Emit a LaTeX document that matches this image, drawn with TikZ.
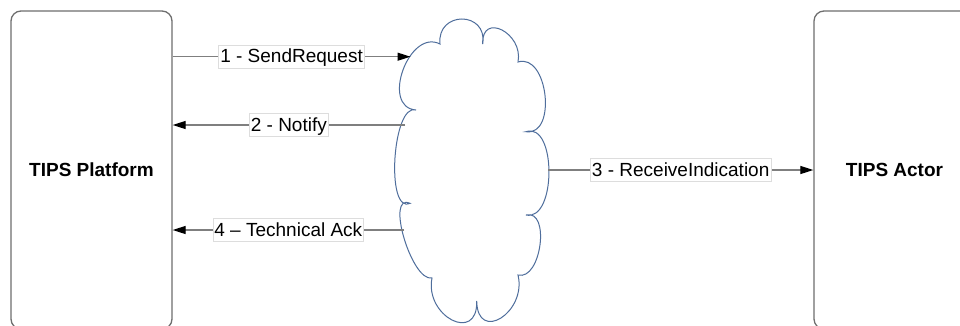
\documentclass[tikz,border=0pt]{standalone}
\usepackage{fontspec}
\setmainfont{Liberation Sans}
\usetikzlibrary{arrows.meta,calc}
\definecolor{boxgray}{HTML}{6E6E6E}
\definecolor{linegray}{HTML}{7F7F7F}
\definecolor{cloudblue}{HTML}{4F6E9C}
\definecolor{lblgray}{HTML}{DDDDDD}
\begin{document}
\begin{tikzpicture}[x=1pt,y=-1pt,
  font=\fontsize{19}{22}\selectfont,
  actorbox/.style={draw=boxgray,line width=1.3pt,rounded corners=10pt,fill=white,
    minimum width=161pt,minimum height=318pt,inner sep=0pt,font=\fontsize{19}{22}\selectfont\bfseries},
  conn/.style={draw=linegray,line width=1.2pt},
  tip/.style={-{Triangle[length=13pt,width=8pt,color=black,fill=black]}},
  lbl/.style={draw=lblgray,line width=0.6pt,fill=white,inner xsep=1.5pt,inner ysep=1pt,
    text height=16.5pt,text depth=4.5pt},
  cloudline/.style={draw=cloudblue,line width=1pt,fill=white}]
\fill[white] (0,0) rectangle (960,325);
\useasboundingbox (0,0) rectangle (960,325);
\clip (0,0) rectangle (960,325);

\node[actorbox] (plat) at (91.5,170) {TIPS Platform};
\node[actorbox] (actor) at (894.5,170) {TIPS Actor};

% cloud cusps
\coordinate (k1) at (416,110);
\coordinate (k2) at (440,44);
\coordinate (k3) at (482.7,44);
\coordinate (k4) at (518,62);
\coordinate (k5) at (526,131.7);
\coordinate (k6) at (526,215);
\coordinate (k7) at (518,275);
\coordinate (k8) at (476.7,301);
\coordinate (k9) at (432,278);
\coordinate (k10) at (410,203.3);
% bump apexes
\coordinate (e1) at (403,70);
\coordinate (e2) at (462,19);
\coordinate (e3) at (502,30);
\coordinate (e4) at (545,95);
\coordinate (e5) at (549,172);
\coordinate (e6) at (540,245);
\coordinate (e7) at (501,318);
\coordinate (e8) at (452,320);
\coordinate (e9) at (404,238);
\coordinate (e10) at (395,158);

\path[cloudline] (k1)
  .. controls ($0.4333*(k1)+1.3333*(e1)-0.7667*(k2)$) and ($1.3333*(e1)+0.4333*(k2)-0.7667*(k1)$) .. (k2)
  .. controls ($0.4333*(k2)+1.3333*(e2)-0.7667*(k3)$) and ($1.3333*(e2)+0.4333*(k3)-0.7667*(k2)$) .. (k3)
  .. controls ($0.4333*(k3)+1.3333*(e3)-0.7667*(k4)$) and ($1.3333*(e3)+0.4333*(k4)-0.7667*(k3)$) .. (k4)
  .. controls ($0.4333*(k4)+1.3333*(e4)-0.7667*(k5)$) and ($1.3333*(e4)+0.4333*(k5)-0.7667*(k4)$) .. (k5)
  .. controls ($0.4333*(k5)+1.3333*(e5)-0.7667*(k6)$) and ($1.3333*(e5)+0.4333*(k6)-0.7667*(k5)$) .. (k6)
  .. controls ($0.4333*(k6)+1.3333*(e6)-0.7667*(k7)$) and ($1.3333*(e6)+0.4333*(k7)-0.7667*(k6)$) .. (k7)
  .. controls ($0.4333*(k7)+1.3333*(e7)-0.7667*(k8)$) and ($1.3333*(e7)+0.4333*(k8)-0.7667*(k7)$) .. (k8)
  .. controls ($0.4333*(k8)+1.3333*(e8)-0.7667*(k9)$) and ($1.3333*(e8)+0.4333*(k9)-0.7667*(k8)$) .. (k9)
  .. controls ($0.4333*(k9)+1.3333*(e9)-0.7667*(k10)$) and ($1.3333*(e9)+0.4333*(k10)-0.7667*(k9)$) .. (k10)
  .. controls ($0.4333*(k10)+1.3333*(e10)-0.7667*(k1)$) and ($1.3333*(e10)+0.4333*(k1)-0.7667*(k10)$) .. (k1)
  -- cycle;

% connector ends on the cloud outline
\coordinate (c1) at (410.5,56.7);
\coordinate (c2) at (405,125);
\coordinate (c4) at (404,230);
\coordinate (c3) at (548,170);

\draw[conn,tip] (plat.east |- c1) -- node[lbl] {1 - SendRequest} (c1);
\draw[conn,tip] (c2) -- node[lbl] {2 - Notify} (plat.east |- c2);
\draw[conn,tip] (c4) -- node[lbl] {4 – Technical Ack} (plat.east |- c4);
\draw[conn,tip] (c3) -- node[lbl] {3 - ReceiveIndication} (actor.west |- c3);
\end{tikzpicture}
\end{document}
